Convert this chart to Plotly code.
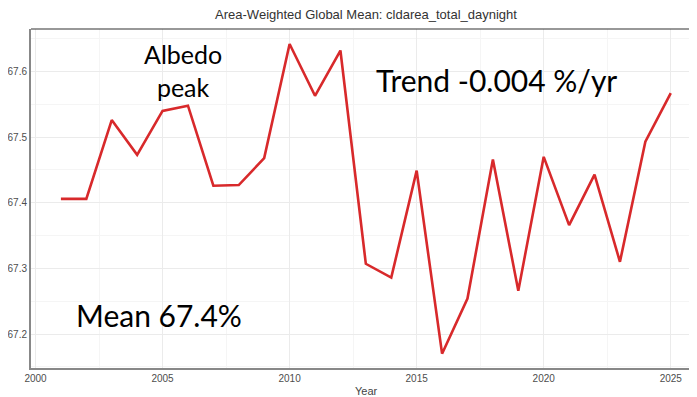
import plotly.graph_objects as go

years = list(range(2001, 2026))
cld_area = [67.406, 67.406, 67.526, 67.473, 67.540, 67.548, 67.426, 67.427, 67.468,
            67.642, 67.563, 67.632, 67.307, 67.286, 67.449, 67.170, 67.254, 67.466,
            67.266, 67.470, 67.366, 67.443, 67.310, 67.493, 67.567]

x_ticks = [2000, 2005, 2010, 2015, 2020, 2025]
y_ticks = [67.2, 67.3, 67.4, 67.5, 67.6]

title_text = "Area-Weighted Global Mean: cldarea_total_daynight"
label_peak = "Albedo<br>peak"
label_trend = "Trend -0.004 %/yr"
label_mean = "Mean 67.4%"

W, H = 693, 397
L, R, T, B = 23, 0, 21, 37
plot_w = W - L - R
plot_h = H - T - B

fig = go.Figure()
fig.add_trace(go.Scatter(x=years, y=cld_area, mode="lines",
                         line=dict(color="#d8292b", width=2.6),
                         showlegend=False, hoverinfo="x+y"))

tick_font = dict(family="Liberation Sans, Arial, sans-serif", size=10, color="#4d4d4d")
ann_font = dict(family="Lato, sans-serif", size=30, color="#000000")

fig.update_layout(
    width=W, height=H,
    margin=dict(l=L, r=R, t=T, b=B),
    paper_bgcolor="white", plot_bgcolor="white",
    title=dict(text=title_text, xref="container", x=(366 - 8) / W, xanchor="center",
               yref="container", y=1 - 6.5 / H, yanchor="middle",
               font=dict(family="Liberation Sans, Arial, sans-serif", size=13, color="#333333")),
    xaxis=dict(range=[1999.823, 2026.19], tickvals=x_ticks, ticktext=[str(v) for v in x_ticks],
               showgrid=True, gridcolor="#ebebeb", gridwidth=1,
               minor=dict(dtick=2.5, tick0=2000, showgrid=True, gridcolor="#f5f5f5", gridwidth=1),
               showline=True, linecolor="#888888", linewidth=2,
               ticks="", tickfont=tick_font, zeroline=False, automargin=False),
    yaxis=dict(range=[67.1482, 67.6648], tickvals=y_ticks, ticktext=[f"{v:.1f}" for v in y_ticks],
               showgrid=True, gridcolor="#ebebeb", gridwidth=1,
               minor=dict(dtick=0.05, tick0=67.15, showgrid=True, gridcolor="#f5f5f5", gridwidth=1),
               showline=True, linecolor="#888888", linewidth=2,
               ticks="", tickfont=tick_font, zeroline=False, automargin=False),
)

fig.add_shape(type="line", xref="paper", yref="paper", x0=0, x1=1, y0=1, y1=1,
              line=dict(color="#333333", width=1.2))

fig.add_annotation(text="Year", xref="paper", yref="paper", x=(366 - 31) / plot_w,
                   y=-(391 - 368) / plot_h,
                   xanchor="center", yanchor="middle", showarrow=False,
                   font=dict(family="Liberation Sans, Arial, sans-serif", size=11, color="#444444"))
fig.add_annotation(text="cldarea_total_daynight", xref="paper", yref="paper",
                   x=(-4 - 31) / plot_w, y=0.5, textangle=-90, xanchor="center", yanchor="middle",
                   showarrow=False,
                   font=dict(family="Liberation Sans, Arial, sans-serif", size=11, color="#444444"))

fig.add_annotation(text=label_peak, x=2005.81, y=67.601, showarrow=False,
                   xanchor="center", yanchor="middle",
                   font=dict(family="Lato, sans-serif", size=25, color="#000000"))
fig.add_annotation(text=label_trend, x=2018.13, y=67.587, showarrow=False,
                   xanchor="center", yanchor="middle", font=ann_font)
fig.add_annotation(text=label_mean, x=2004.86, y=67.229, showarrow=False,
                   xanchor="center", yanchor="middle", font=ann_font)

fig.write_html("out.html")
